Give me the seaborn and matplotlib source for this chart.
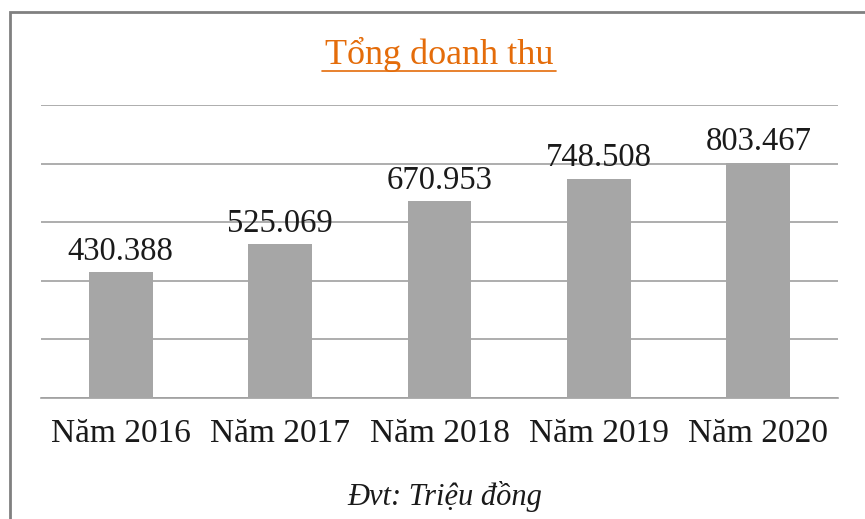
import pandas as pd
import seaborn as sns
import matplotlib.pyplot as plt
from matplotlib.patches import Rectangle
from matplotlib.lines import Line2D

# data
years = ['Năm 2016', 'Năm 2017', 'Năm 2018', 'Năm 2019', 'Năm 2020']
revenue = [430.388, 525.069, 670.953, 748.508, 803.467]
value_labels = ['430.388', '525.069', '670.953', '748.508', '803.467']

df = pd.DataFrame({'year': years, 'revenue': revenue})

sns.set_style('white')
plt.rcParams['font.family'] = ['Liberation Serif', 'DejaVu Serif']

W, H = 865, 519
fig = plt.figure(figsize=(W / 100, H / 100), dpi=100)
ax = fig.add_axes([41 / W, 121 / H, (838 - 41) / W, (414 - 121) / H])

sns.barplot(data=df, x='year', y='revenue', color='#A6A6A6', width=0.4,
            saturation=1, linewidth=0, ax=ax, zorder=3)

ax.set_ylim(0, 1000)
ax.set_yticks(range(0, 1001, 200))
ax.yaxis.grid(True, color='#A0A0A0', linewidth=1.2, zorder=0)
ax.set_yticklabels([])
ax.tick_params(axis='y', length=0)
ax.tick_params(axis='x', length=0, labelsize=24, pad=15, colors='#1a1a1a')
for s in ['top', 'right', 'left']:
    ax.spines[s].set_visible(False)
ax.spines['bottom'].set_color('#A0A0A0')
ax.spines['bottom'].set_linewidth(1.2)
ax.set_xlabel('')
ax.set_ylabel('')

for i, (v, lab) in enumerate(zip(revenue, value_labels)):
    ax.text(i, v + 18, lab, ha='center', va='bottom', fontsize=23.5, color='#1a1a1a')

# title with underline
fig.text(439 / W, 1 - 54 / H, 'Tổng doanh thu', ha='center', va='center',
         fontsize=26, color='#E46C0A')
fig.add_artist(Line2D([322 / W, 556 / W], [1 - 71 / H, 1 - 71 / H],
                      color='#E46C0A', linewidth=1.2, transform=fig.transFigure))

fig.text(445 / W, 1 - 497 / H, 'Đvt: Triệu đồng', ha='center', va='center',
         fontsize=22, style='italic', color='#1a1a1a')

# outer frame
fig.add_artist(Rectangle((10 / W, -0.05), 1.0, 1 - 12 / H + 0.05, fill=False,
                         edgecolor='#808080', linewidth=2, transform=fig.transFigure))

fig.savefig('out.png', dpi=100)
